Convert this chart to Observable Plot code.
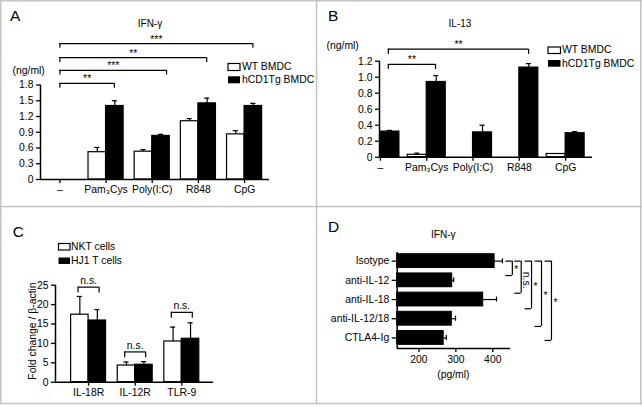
<!DOCTYPE html>
<html><head><meta charset="utf-8">
<script src="https://cdn.jsdelivr.net/npm/d3@7"></script>
<script src="https://cdn.jsdelivr.net/npm/@observablehq/plot@0.6"></script>
<style>
html,body{margin:0;padding:0;background:#fff;}
#fig{position:relative;width:642px;height:407px;overflow:hidden;background:#fff;font-family:'Liberation Sans',Arial,sans-serif;}
.panel{position:absolute;}
#overlay{position:absolute;left:0;top:0;pointer-events:none;}
</style></head>
<body>
<div id="fig">
  <div class="panel" id="pA" style="left:0;top:0"></div>
  <div class="panel" id="pB" style="left:317px;top:0"></div>
  <div class="panel" id="pC" style="left:0;top:207px"></div>
  <div class="panel" id="pD" style="left:317px;top:207px"></div>
  <svg id="overlay" width="642" height="407" font-family="'Liberation Sans',Arial,sans-serif" font-size="10.4" fill="#000">
    <g fill="#c3c3c3">
      <rect x="0" y="0" width="642" height="1.5"/>
      <rect x="0" y="402.8" width="642" height="1.5"/>
      <rect x="0" y="0" width="1.5" height="404.3"/>
      <rect x="640" y="0" width="1.5" height="404.3"/>
      <rect x="315.8" y="0" width="1.5" height="404.3"/>
      <rect x="0" y="205.8" width="642" height="1.5"/>
    </g>
    <text x="10" y="21" font-size="15.5">A</text>
    <text x="150" y="27" text-anchor="middle" font-size="10">IFN-γ</text>
    <text x="12.5" y="74">(ng/ml)</text>
    <rect x="228" y="63.5" width="12" height="7" fill="#fff" stroke="#000" stroke-width="1.2"/>
    <text x="242" y="70.4">WT BMDC</text>
    <rect x="228" y="76.3" width="12" height="7" fill="#000"/>
    <text x="242" y="83.3">hCD1Tg BMDC</text>

    <text x="328" y="21" font-size="15.5">B</text>
    <text x="460" y="27.3" text-anchor="middle" font-size="10">IL-13</text>
    <text x="326.5" y="49">(ng/ml)</text>
    <rect x="548" y="47" width="12.5" height="6.5" fill="#fff" stroke="#000" stroke-width="1.2"/>
    <text x="562" y="53.4">WT BMDC</text>
    <rect x="548" y="60" width="12.5" height="6.7" fill="#000"/>
    <text x="562" y="66.8">hCD1Tg BMDC</text>

    <text x="12.7" y="236.7" font-size="15.5">C</text>
    <rect x="58.5" y="243.5" width="11.5" height="6.5" fill="#fff" stroke="#000" stroke-width="1.2"/>
    <text x="71" y="250.2">NKT cells</text>
    <rect x="58.5" y="257.5" width="11.5" height="6.5" fill="#000"/>
    <text x="71" y="264.2">HJ1 T cells</text>
    <text transform="translate(35.5,331) rotate(-90)" text-anchor="middle">Fold change / β-actin</text>

    <text x="328" y="231.7" font-size="15.5">D</text>
    <text x="443.3" y="238.3" text-anchor="middle" font-size="10">IFN-γ</text>
    <text x="453.4" y="377.5" text-anchor="middle">(pg/ml)</text>
  </svg>
</div>
<script>
// ---------- Panel A: IFN-γ (ng/ml) ----------
const categoriesAB = ["–", "Pam₃Cys", "Poly(I:C)", "R848", "CpG"];
const ifnWT = [0, 0.52, 0.53, 1.11, 0.86];
const ifnWTErr = [0, 0.09, 0.04, 0.05, 0.07];
const ifnTg = [0, 1.40, 0.83, 1.45, 1.40];
const ifnTgErr = [0, 0.10, 0.03, 0.10, 0.05];
const ifnTicks = [0, 0.3, 0.6, 0.9, 1.2, 1.5, 1.8];
const ifnSigStart = [0, 0, 0, 0];
const ifnSigEnd = [1.18, 2.31, 3.18, 4.18];
const ifnSigLevel = [1.83, 2.08, 2.32, 2.59];
const ifnSigLabel = ["**", "***", "**", "***"];

// ---------- Panel B: IL-13 (ng/ml) ----------
const il13WT = [0, 0.03, 0, 0, 0.04];
const il13WTErr = [0, 0.02, 0, 0, 0];
const il13Tg = [0.32, 0.94, 0.31, 1.12, 0.30];
const il13TgErr = [0.015, 0.08, 0.09, 0.05, 0.02];
const il13Ticks = [0, 0.2, 0.4, 0.6, 0.8, 1.0, 1.2];
const il13SigStart = [0.17, 0.17];
const il13SigEnd = [1.19, 3.2];
const il13SigLevel = [1.16, 1.35];
const il13SigLabel = ["**", "**"];

// ---------- Panel C: fold change / β-actin ----------
const categoriesC = ["IL-18R", "IL-12R", "TLR-9"];
const nktValues = [17.4, 4.3, 10.5];
const nktErr = [4.7, 0.9, 3.7];
const hj1Values = [15.9, 4.5, 11.2];
const hj1Err = [2.8, 0.8, 4.1];
const foldTicks = [0, 5, 10, 15, 20, 25];
const nsStart = [-0.225, 0.775, 1.775];
const nsEnd = [0.225, 1.225, 2.225];
const nsLevel = [24.5, 7.8, 18.0];
const nsLabel = ["n.s.", "n.s.", "n.s."];

// ---------- Panel D: IFN-γ (pg/ml) ----------
const categoriesD = ["Isotype", "anti-IL-12", "anti-IL-18", "anti-IL-12/18", "CTLA4-Ig"];
const ifnD = [405, 290, 374, 289, 267];
const ifnDErr = [21, 4, 36, 10, 7];
const pgTicks = [200, 300, 400];
const dSigX = [453, 477, 505, 532, 559];
const dSigEnd = [0.75, 1.67, 2.48, 3.4, 4.13];
const dSigLabel = ["*", "n.s.", "*", "*", "*"];

const baseStyle = {
  fontFamily: "'Liberation Sans', Arial, sans-serif",
  fontSize: "10.4px",
  color: "#000",
  background: "transparent",
  overflow: "visible"
};

function groupedBars(cfg) {
  const idx = cfg.cats.map((_, i) => i);
  const bw = cfg.bw;
  const cap = cfg.cap;
  const wIdx = idx.filter(i => cfg.v1[i] > 0);
  const tIdx = idx.filter(i => cfg.v2[i] > 0);
  const we = idx.filter(i => cfg.e1[i] > 0);
  const te = idx.filter(i => cfg.e2[i] > 0);
  const s = cfg.sigLevel.map((_, j) => j);
  const y0 = cfg.yTicks[0], y1 = cfg.yTicks[cfg.yTicks.length - 1];
  return Plot.plot({
    width: cfg.width, height: cfg.height,
    marginLeft: cfg.ml, marginRight: cfg.mr, marginTop: cfg.mt, marginBottom: cfg.mb,
    x: {type: "linear", domain: cfg.xDomain},
    y: {type: "linear", domain: [y0, y1]},
    style: baseStyle,
    marks: [
      Plot.rect(wIdx, {x1: i => i - bw, x2: i => i, y1: () => 0, y2: i => cfg.v1[i], fill: "#fff", stroke: "#000", strokeWidth: 1.2}),
      Plot.rect(tIdx, {x1: i => i, x2: i => i + bw, y1: () => 0, y2: i => cfg.v2[i], fill: "#000", stroke: "#000", strokeWidth: 1.2}),
      Plot.ruleX(we, {x: i => i - bw / 2, y1: i => cfg.v1[i], y2: i => cfg.v1[i] + cfg.e1[i], strokeWidth: 1.2}),
      Plot.ruleY(we, {y: i => cfg.v1[i] + cfg.e1[i], x1: i => i - bw / 2 - cap, x2: i => i - bw / 2 + cap, strokeWidth: 1.2}),
      Plot.ruleX(te, {x: i => i + bw / 2, y1: i => cfg.v2[i], y2: i => cfg.v2[i] + cfg.e2[i], strokeWidth: 1.2}),
      Plot.ruleY(te, {y: i => cfg.v2[i] + cfg.e2[i], x1: i => i + bw / 2 - cap, x2: i => i + bw / 2 + cap, strokeWidth: 1.2}),
      Plot.ruleX([cfg.xDomain[0]], {y1: y0, y2: y1, strokeWidth: 1.5}),
      Plot.ruleY([0], {x1: cfg.xDomain[0], x2: cfg.xDomain[1], strokeWidth: 1.5}),
      Plot.axisY({ticks: cfg.yTicks, tickFormat: cfg.yFmt, tickSize: 4, tickPadding: 3, strokeWidth: 1.3, label: null}),
      Plot.axisX({ticks: idx, tickFormat: i => cfg.cats[i], tickSize: 4, tickPadding: 2, strokeWidth: 1.3, label: null}),
      Plot.ruleY(s, {y: j => cfg.sigLevel[j], x1: j => cfg.sigStart[j], x2: j => cfg.sigEnd[j], strokeWidth: 1.2}),
      Plot.ruleX(s, {x: j => cfg.sigStart[j], y1: j => cfg.sigLevel[j], y2: j => cfg.sigLevel[j] - cfg.drop, strokeWidth: 1.2}),
      Plot.ruleX(s, {x: j => cfg.sigEnd[j], y1: j => cfg.sigLevel[j], y2: j => cfg.sigLevel[j] - cfg.drop, strokeWidth: 1.2}),
      Plot.text(s, {x: j => (cfg.sigStart[j] + cfg.sigEnd[j]) / 2, y: j => cfg.sigLevel[j], text: j => cfg.sigLabel[j], lineAnchor: "bottom", dy: cfg.textDy, fontSize: 10.4})
    ]
  });
}

const fmt1 = d => d === 0 ? "0" : d.toFixed(1);

document.getElementById("pA").appendChild(groupedBars({
  width: 316, height: 206, ml: 40, mr: 47, mt: 84.5, mb: 27,
  xDomain: [-0.42, 4.54], cats: categoriesAB,
  v1: ifnWT, e1: ifnWTErr, v2: ifnTg, e2: ifnTgErr,
  yTicks: ifnTicks, yFmt: fmt1, bw: 0.38, cap: 0.055,
  sigStart: ifnSigStart, sigEnd: ifnSigEnd, sigLevel: ifnSigLevel, sigLabel: ifnSigLabel,
  drop: 0.09, textDy: -1
}));

document.getElementById("pB").appendChild(groupedBars({
  width: 324, height: 206, ml: 62, mr: 49, mt: 60.7, mb: 49.3,
  xDomain: [-0.02, 4.58], cats: categoriesAB,
  v1: il13WT, e1: il13WTErr, v2: il13Tg, e2: il13TgErr,
  yTicks: il13Ticks, yFmt: fmt1, bw: 0.41, cap: 0.055,
  sigStart: il13SigStart, sigEnd: il13SigEnd, sigLevel: il13SigLevel, sigLabel: il13SigLabel,
  drop: 0.065, textDy: -1
}));

document.getElementById("pC").appendChild(groupedBars({
  width: 316, height: 196, ml: 55, mr: 103, mt: 77.7, mb: 21.3,
  xDomain: [-0.71, 2.68], cats: categoriesC,
  v1: nktValues, e1: nktErr, v2: hj1Values, e2: hj1Err,
  yTicks: foldTicks, yFmt: d => String(d), bw: 0.375, cap: 0.055,
  sigStart: nsStart, sigEnd: nsEnd, sigLevel: nsLevel, sigLabel: nsLabel,
  drop: 1.5, textDy: -3
}));

// Panel D
(function () {
  const idx = categoriesD.map((_, i) => i);
  const xDomain = [141, 448];
  const yDomain = [-0.45, 4.55];
  const s = dSigX.map((_, j) => j);
  const arm = 17.5;
  const stars = s.filter(j => dSigLabel[j] !== "n.s.");
  const ns = s.filter(j => dSigLabel[j] === "n.s.");
  const plot = Plot.plot({
    width: 324, height: 196, marginLeft: 79.7, marginRight: 131, marginTop: 45, marginBottom: 55,
    x: {type: "linear", domain: xDomain},
    y: {type: "linear", domain: yDomain, reverse: true},
    style: baseStyle,
    marks: [
      Plot.rect(idx, {x1: () => xDomain[0], x2: i => ifnD[i], y1: i => i - 0.36, y2: i => i + 0.36, fill: "#000", stroke: "#000", strokeWidth: 1}),
      Plot.ruleY(idx, {y: i => i, x1: i => ifnD[i], x2: i => ifnD[i] + ifnDErr[i], strokeWidth: 1.2}),
      Plot.ruleX(idx, {x: i => ifnD[i] + ifnDErr[i], y1: i => i - 0.13, y2: i => i + 0.13, strokeWidth: 1.2}),
      Plot.ruleX([xDomain[0]], {y1: yDomain[0], y2: yDomain[1], strokeWidth: 1.5}),
      Plot.ruleY([yDomain[1]], {x1: xDomain[0], x2: xDomain[1], strokeWidth: 1.5}),
      Plot.axisY({ticks: idx, tickFormat: i => categoriesD[i], tickSize: 5, tickPadding: 3, strokeWidth: 1.3, label: null}),
      Plot.axisX({ticks: pgTicks, tickFormat: d => String(d), tickSize: 4, tickPadding: 3, strokeWidth: 1.3, label: null}),
      Plot.ruleX(s, {x: j => dSigX[j], y1: () => 0, y2: j => dSigEnd[j], strokeWidth: 1.2}),
      Plot.ruleY(s, {y: () => 0, x1: j => dSigX[j] - arm, x2: j => dSigX[j], strokeWidth: 1.2}),
      Plot.ruleY(s, {y: j => dSigEnd[j], x1: j => dSigX[j] - arm, x2: j => dSigX[j], strokeWidth: 1.2}),
      Plot.text(stars, {x: j => dSigX[j], y: j => dSigEnd[j] / 2, text: j => dSigLabel[j], textAnchor: "start", lineAnchor: "bottom", dx: 2, dy: 5, fontSize: 10.4}),
      Plot.text(ns, {x: j => dSigX[j], y: j => dSigEnd[j] / 2, text: j => dSigLabel[j], rotate: 90, textAnchor: "middle", lineAnchor: "bottom", dx: 2, dy: 3, fontSize: 10.4})
    ]
  });
  document.getElementById("pD").appendChild(plot);
})();
</script>
</body></html>
